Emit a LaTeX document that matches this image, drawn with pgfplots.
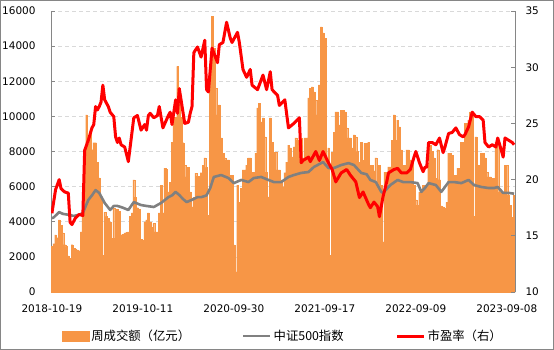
\documentclass[border=0pt]{standalone}
\usepackage{pgfplots}
\usepackage{pgfplotstable}
\pgfplotsset{compat=1.18}
\usepackage{fontspec}
\setmainfont{DejaVu Sans}
\newfontfamily\cjk{Noto Sans CJK SC}
\definecolor{barorange}{RGB}{247,150,70}
\definecolor{idxgray}{RGB}{128,128,128}
\definecolor{axgray}{RGB}{134,134,134}
\definecolor{gridgray}{RGB}{217,217,217}

\pgfplotstableread{
v
2600
2750
3250
3100
4100
3800
3360
2700
2600
2050
1930
2700
2500
2450
2400
2350
3420
4550
7970
10080
8400
9100
8100
8500
8500
7400
6500
5350
2100
4550
4300
4200
4000
3070
4780
3070
4700
4600
3250
3300
3360
3400
3420
4300
4500
6380
5400
4800
4700
3000
2960
4000
4100
4500
3990
3700
3900
3420
3420
4500
6090
4500
7060
7000
5700
6260
8540
9960
9960
12850
11600
9960
8500
7200
6550
7100
5700
4840
5400
6770
6600
6600
6800
7200
7630
7100
4380
12190
15700
13890
11600
10080
10650
8770
7910
7630
7520
7520
6660
6660
2680
1140
6090
5120
5920
6950
6950
7230
7630
7630
6830
6830
7910
10480
10760
9680
9910
8830
6830
5410
9910
8540
7970
7970
6950
6950
6380
6000
6800
7400
8370
8200
7700
8260
8770
8650
8650
8770
7630
8770
8770
11050
11600
11680
11400
10930
10080
11790
15090
14750
14460
7400
8200
2100
7970
9110
10250
10250
9510
10360
10360
10250
9340
8770
8770
8200
8940
8830
8000
7400
8540
7500
8480
8480
8540
7230
7230
6900
7630
6090
7230
6090
2850
6830
6090
7120
7120
8650
10080
8650
9790
9400
8090
7230
7230
8090
8090
7520
7520
6090
5240
4950
5690
5690
6090
6090
6090
7340
8370
8000
7630
6490
8100
6400
4900
4840
4780
5100
7910
7910
7800
6660
6660
7060
7060
8540
8540
9620
9620
9790
10250
10250
4300
8830
7230
7230
7910
7910
7630
6830
6550
6550
6490
6490
8540
8540
5690
5690
5690
7230
7230
5520
4950
4270
5520
}\bars

\begin{document}
\begin{tikzpicture}
\begin{axis}[
  at={(0,0)}, anchor=south west,
  scale only axis, width=464bp, height=281bp,
  xmin=-0.5, xmax=254.5, ymin=0, ymax=16000,
  axis x line*=bottom, axis y line*=left,
  axis line style={axgray, line width=0.75bp},
  tick style={axgray, line width=0.75bp},
  tick align=inside, major tick length=4bp,
  xtick={0,50,100,150,200,250},
  xticklabels={2018-10-19,2019-10-11,2020-09-30,2021-09-17,2022-09-09,2023-09-08},
  ytick={0,2000,...,16000},
  scaled y ticks=false,
  /pgf/number format/1000 sep={},
  /pgf/number format/assume math mode=true,
  tick label style={font=\fontsize{10.5}{12}\selectfont, black},
  yticklabel style={xshift=-12bp},
  xticklabel style={yshift=-9bp},
  ymajorgrids,
  grid style={gridgray, dash pattern=on 4bp off 3bp, line width=0.6bp},
  legend style={at={(0.5,-0.1566)}, anchor=center, draw=none,
    font=\cjk\fontsize{12.4}{14}\selectfont,
    /tikz/every even column/.append style={column sep=50bp}},
  legend columns=3,
]
\addplot[ybar, bar width=1, bar shift=0pt, fill=barorange, draw=barorange, line width=0.1bp,
  legend image code/.code={\fill[barorange] (0bp,-5bp) rectangle (27bp,5bp);}]
  table[x expr=\coordindex, y=v] {\bars};
\addlegendentry{周成交额（亿元）}
\addplot[idxgray, line width=2.6bp, line join=round,
  legend image code/.code={\draw[idxgray, line width=2.6bp] (0bp,0bp) -- (27bp,0bp);}]
  coordinates {(0,4200)(1,4250)(4,4550)(6,4450)(9,4400)(12,4330)(15,4400)(17,4500)(20,5240)(22,5500)(24,5800)(26,5640)(29,5070)(32,4670)(34,4900)(36,4900)(39,4800)(42,4670)(45,5120)(49,4950)(52,4900)(56,4840)(60,5070)(64,5400)(66,5500)(68,5700)(70,5520)(72,5300)(74,5120)(77,5250)(80,5400)(82,5400)(85,5500)(87,5920)(89,6550)(93,6660)(97,6490)(100,6200)(104,6380)(108,6260)(111,6490)(115,6550)(119,6380)(122,6260)(126,6260)(130,6550)(133,6660)(137,6780)(141,6830)(144,7120)(148,7340)(149,7400)(152,7060)(155,7060)(159,7230)(163,7340)(166,7230)(170,6780)(173,6700)(175,6380)(178,6260)(181,5700)(182,5640)(186,6090)(190,6380)(193,6260)(197,6260)(201,6200)(203,5700)(205,5920)(207,6200)(211,6090)(214,5700)(218,6260)(221,6260)(225,6200)(229,6380)(232,6090)(236,5980)(240,5920)(243,5920)(245,5980)(248,5640)(251,5640)(254,5600)};
\addlegendentry{中证500指数}
\addlegendimage{legend image code/.code={\draw[red, line width=3bp] (0bp,0bp) -- (27bp,0bp);}}
\addlegendentry{市盈率（右）}
\end{axis}
\begin{axis}[
  at={(0,0)}, anchor=south west,
  scale only axis, width=464bp, height=281bp,
  xmin=-0.5, xmax=254.5, ymin=10, ymax=35,
  axis x line=none, axis y line*=right,
  axis line style={axgray, line width=0.75bp},
  tick style={axgray, line width=0.75bp},
  tick align=inside, major tick length=4bp,
  ytick={10,15,...,35},
  /pgf/number format/assume math mode=true,
  tick label style={font=\fontsize{10.5}{12}\selectfont, black},
  yticklabel style={xshift=7bp},
]
\addplot[red, line width=3bp, line join=round]
  coordinates {(0,17.0)(2,19.1)(4,20.0)(5,19.2)(7,18.9)(9,18.8)(10,16.2)(11,16.0)(13,16.6)(15,16.9)(17,16.8)(18,22.6)(20,23.5)(22,24.6)(23,24.9)(24,26.5)(25,26.2)(26,26.5)(27,26.9)(28,28.4)(29,27.1)(31,26.5)(32,26.0)(34,25.6)(35,23.8)(36,23.3)(37,23.7)(38,23.1)(40,22.9)(42,21.6)(43,22.9)(45,25.5)(47,25.7)(49,24.4)(51,24.9)(52,24.4)(53,25.7)(54,25.9)(56,25.5)(58,25.7)(59,26.5)(61,24.6)(64,25.7)(65,26.0)(66,24.9)(68,27.1)(69,25.9)(70,28.1)(73,25.0)(75,25.1)(76,25.9)(77,26.5)(78,31.3)(80,31.8)(82,30.9)(84,32.4)(85,28.0)(86,27.8)(88,31.7)(91,30.4)(92,32.0)(94,32.2)(96,34.0)(98,32.6)(99,32.2)(102,33.1)(103,32.2)(105,29.8)(107,29.1)(109,29.8)(110,28.4)(113,28.0)(116,29.3)(118,28.0)(120,29.6)(121,28.0)(124,27.5)(125,26.6)(128,27.1)(130,24.6)(133,25.0)(136,25.5)(137,21.5)(138,21.7)(141,22.0)(142,21.6)(145,22.5)(147,21.7)(149,22.5)(152,21.5)(154,20.9)(156,19.8)(159,20.6)(162,20.9)(164,20.4)(167,19.8)(169,18.4)(171,18.9)(174,17.8)(175,17.5)(177,18.0)(179,17.6)(180,16.7)(182,18.5)(184,19.8)(185,20.6)(188,20.9)(190,21.0)(192,20.6)(195,20.6)(197,20.9)(199,22.0)(200,22.5)(202,21.5)(204,20.7)(205,21.1)(206,21.1)(207,23.3)(209,23.3)(211,23.1)(213,23.7)(215,22.4)(216,22.9)(218,24.1)(220,24.2)(222,24.6)(224,24.0)(226,23.8)(227,24.0)(229,24.7)(231,26.0)(233,25.6)(235,25.6)(237,25.3)(238,23.3)(240,22.9)(242,23.1)(244,22.9)(245,23.7)(247,22.6)(248,22.0)(249,23.7)(251,23.5)(253,23.3)(254,23.1)};
\end{axis}
\draw[axgray, line width=0.75bp] (-50.6bp,-57.6bp) rectangle (502.6bp,291.6bp);
\pgfresetboundingbox
\useasboundingbox (-51bp,-58bp) rectangle (503bp,292bp);
\end{tikzpicture}
\end{document}
